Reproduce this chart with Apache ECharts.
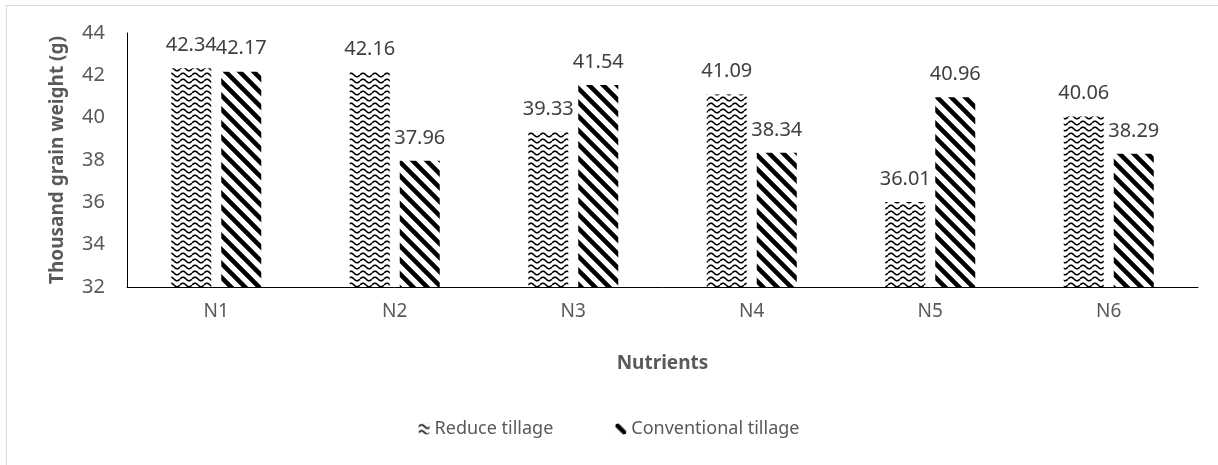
<!DOCTYPE html>
<html>
<head>
<meta charset="utf-8">
<script src="https://cdn.jsdelivr.net/npm/echarts@6/dist/echarts.min.js"></script>
<style>
  html, body { margin: 0; padding: 0; background: #fff; }
  #frame { position: absolute; left: 6px; top: 5px; width: 1212px; height: 460px;
           border-left: 1px solid #d9d9d9; border-top: 1px solid #d9d9d9; box-sizing: border-box; }
  #chart { position: absolute; left: 0; top: 0; width: 1218px; height: 465px; }
</style>
</head>
<body>
<div id="frame"></div>
<div id="chart"></div>
<script>
const categories = ['N1', 'N2', 'N3', 'N4', 'N5', 'N6']
const reduceTillage = [42.34, 42.16, 39.33, 41.09, 36.01, 40.06]
const conventionalTillage = [42.17, 37.96, 41.54, 38.34, 40.96, 38.29]
const seriesNames = ['Reduce tillage', 'Conventional tillage']

// wavy fill
const makeWave = () => {
  const c = document.createElement('canvas')
  c.width = 12
  c.height = 6
  const ctx = c.getContext('2d')
  ctx.fillStyle = '#fff'
  ctx.fillRect(0, 0, 12, 6)
  ctx.strokeStyle = '#000'
  ctx.lineWidth = 1.6
  ctx.beginPath()
  for (let x = 0; x <= 12; x += 0.5) {
    const y = 3 - 1.8 * Math.sin((x / 12) * Math.PI * 2)
    if (x === 0) ctx.moveTo(x, y)
    else ctx.lineTo(x, y)
  }
  ctx.stroke()
  return c
}

// diagonal stripes, top-left to bottom-right
const makeStripes = () => {
  const s = 14
  const c = document.createElement('canvas')
  c.width = s
  c.height = s
  const ctx = c.getContext('2d')
  ctx.fillStyle = '#fff'
  ctx.fillRect(0, 0, s, s)
  ctx.strokeStyle = '#000'
  ctx.lineWidth = 4.5
  ctx.beginPath()
  ctx.moveTo(-s, 0); ctx.lineTo(s, 2 * s)
  ctx.moveTo(0, 0); ctx.lineTo(s, s)
  ctx.moveTo(0, -s); ctx.lineTo(2 * s, s)
  ctx.moveTo(-s, -s); ctx.lineTo(s, s)
  ctx.stroke()
  return c
}

const wave = { image: makeWave(), repeat: 'repeat' }
const stripes = { image: makeStripes(), repeat: 'repeat' }

const font = 'Noto Sans'

const labelStyle = {
  show: true,
  position: 'top',
  distance: 13,
  color: '#404040',
  fontFamily: font,
  fontSize: 20,
  formatter: (p) => p.value.toFixed(2),
}

const chart = echarts.init(document.getElementById('chart'), null, { renderer: 'canvas' })

chart.setOption({
  animation: false,
  grid: { left: 127, right: 20, top: 33, bottom: 178 },
  legend: {
    bottom: 22,
    left: 'center',
    itemWidth: 11,
    itemHeight: 11,
    itemGap: 62,
    textStyle: { color: '#595959', fontFamily: font, fontSize: 18 },
    data: seriesNames,
  },
  xAxis: {
    type: 'category',
    data: categories,
    name: 'Nutrients',
    nameLocation: 'middle',
    nameGap: 67,
    nameTextStyle: { color: '#595959', fontFamily: font, fontSize: 19, fontWeight: 'bold' },
    axisLine: { lineStyle: { color: '#000', width: 1 } },
    axisTick: { show: false },
    axisLabel: { color: '#595959', fontFamily: font, fontSize: 19, margin: 15 },
  },
  yAxis: {
    type: 'value',
    min: 32,
    max: 44,
    interval: 2,
    name: 'Thousand grain weight (g)',
    nameLocation: 'middle',
    nameGap: 60,
    nameTextStyle: { color: '#595959', fontFamily: font, fontSize: 19, fontWeight: 'bold' },
    axisLine: { show: true, lineStyle: { color: '#000', width: 1 } },
    axisTick: { show: false },
    splitLine: { show: false },
    axisLabel: { color: '#595959', fontFamily: font, fontSize: 20, margin: 22 },
  },
  series: [
    {
      name: seriesNames[0],
      type: 'bar',
      data: reduceTillage,
      barWidth: 40,
      barGap: '25%',
      itemStyle: { color: wave },
      label: labelStyle,
    },
    {
      name: seriesNames[1],
      type: 'bar',
      data: conventionalTillage,
      barWidth: 40,
      itemStyle: { color: stripes },
      label: labelStyle,
    },
  ],
})

window.addEventListener('resize', () => chart.resize())
</script>
</body>
</html>
